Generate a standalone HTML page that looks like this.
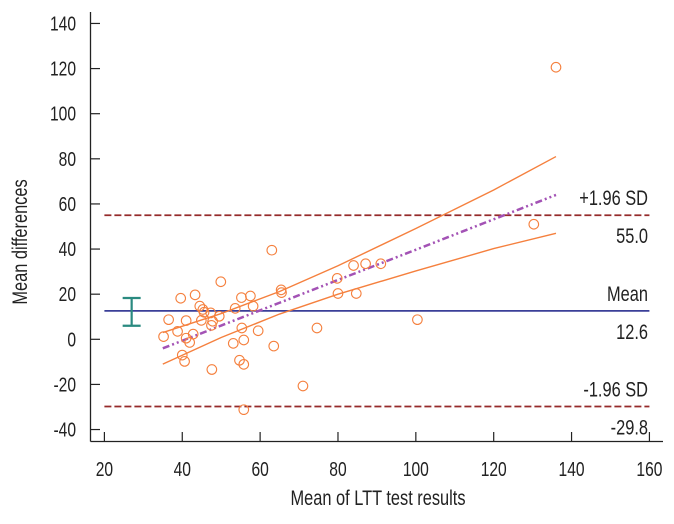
<!DOCTYPE html>
<html><head><meta charset="utf-8"><style>
body{margin:0;background:#fff;}
svg{display:block;font-family:"Liberation Sans",sans-serif;}
</style></head><body>
<svg id="chart" width="674" height="524" viewBox="0 0 674 524" xmlns="http://www.w3.org/2000/svg"></svg>
<script>
const xTicks=[20,40,60,80,100,120,140,160];
const yTicks=[-40,-20,0,20,40,60,80,100,120,140];
const ptsX=[136,130.3,63,49.9,43.3,39.6,55.2,57.5,58.2,53.6,44.5,45.3,45.6,47.3,49.5,36.5,41,44.9,47.8,47.5,38.8,35.2,42.8,41,41.9,40,40.6,47.6,53.1,55.8,55.3,59.5,54.7,55.8,55.8,63.5,65.4,65.5,71,74.6,79.8,80,84,87.1,91,84.7,100.4];
const ptsY=[120.6,51,39.5,25.5,19.7,18.2,18.5,19.2,14.7,13.7,14.7,13.2,12,11.7,10.2,8.7,8.3,8.4,8,6.2,3.5,1.2,2.3,0.5,-1.4,-7,-9.8,-13.4,-1.8,-0.3,5,3.8,-9.3,-11.1,-31.2,-3,21.9,20.7,-20.7,5,27,20.3,32.7,33.5,33.5,20.3,8.7];
const regX=[35,50,65,80,100,120,136];
const regMid=[-4,6.1,16.2,26.3,39.7,53.2,64];
const regUp=[3,11.4,21.2,32.6,49.1,66.2,81];
const regLo=[-11,0.8,11.2,20,30.3,40.2,47];
const meanDiff=12.6, upperLoA=55.0, lowerLoA=-29.8;
const errX=27, errLo=6, errHi=18.3;

const svg=document.getElementById('chart');
const NS='http://www.w3.org/2000/svg';
const X=v=>104.4+(v-20)*3.893;
const Y=v=>339.3-v*2.256;
function mk(tag,attrs,parent){const e=document.createElementNS(NS,tag);for(const k in attrs)e.setAttribute(k,attrs[k]);(parent||svg).appendChild(e);return e;}
function txt(x,y,s,size,anchor,parent,rot){
  const t=mk('text',{x:0,y:0,'text-anchor':anchor,'font-size':size,fill:'#222',transform:'translate('+x+','+y+')'+(rot?' rotate(-90)':'')+' scale(0.78,1)'},parent);
  t.textContent=s;return t;
}

let g=mk('g',{});


mk('line',{x1:90.5,y1:12,x2:90.5,y2:441.5,stroke:'#222','stroke-width':1.3},g);
yTicks.forEach(t=>{
  mk('line',{x1:90.5,y1:Y(t),x2:100,y2:Y(t),stroke:'#222','stroke-width':1.2},g);
  const tx=txt(76,Y(t)+7,String(t),20,'end',g);
  
  
});
let gx=mk('g',{});


mk('line',{x1:90.5,y1:441.5,x2:663,y2:441.5,stroke:'#222','stroke-width':1.3},gx);
xTicks.forEach(t=>{
  mk('line',{x1:X(t),y1:432,x2:X(t),y2:441.5,stroke:'#222','stroke-width':1.2},gx);
  const tx=txt(X(t),476,String(t),20,'middle',gx);
  
  
});
let xt=txt(378,505,'Mean of LTT test results',21,'middle');


let yt=txt(27,242,'Mean differences',21,'middle',null,true);



function hline(v,color,dash,name){
  const l=mk('line',{x1:X(20),y1:Y(v),x2:X(160),y2:Y(v),stroke:color,'stroke-width':1.8});
  if(dash)l.setAttribute('stroke-dasharray',dash);
  
  
}
hline(upperLoA,'#952a2a','7,3','upper-loa-line');
hline(lowerLoA,'#952a2a','7,3','lower-loa-line');
hline(meanDiff,'#3a3f98',null,'mean-line');
function lbl(s,y,name){const t=txt(648,y,s,21,'end');}
lbl('+1.96 SD',Y(upperLoA)-10,'upper-loa-label');
lbl(upperLoA.toFixed(1),Y(upperLoA)+28,'upper-loa-value');
lbl('Mean',Y(meanDiff)-10,'mean-label');
lbl(meanDiff.toFixed(1),Y(meanDiff)+28,'mean-value');
lbl('-1.96 SD',Y(lowerLoA)-10,'lower-loa-label');
lbl(lowerLoA.toFixed(1),Y(lowerLoA)+28,'lower-loa-value');

function poly(ys,color,w,dash,name){
  const p=mk('polyline',{points:regX.map((x,i)=>X(x)+','+Y(ys[i])).join(' '),fill:'none',stroke:color,'stroke-width':w});
  if(dash)p.setAttribute('stroke-dasharray',dash);
  
  
}
poly(regUp,'#f5803e',1.4,null,'regression-upper-ci');
poly(regLo,'#f5803e',1.4,null,'regression-lower-ci');
poly(regMid,'#a352b5',2.5,'7,3,2,3,2,3','regression-line');

let eb=mk('g',{stroke:'#2a8a80','stroke-width':2.2,fill:'none'});


mk('line',{x1:X(errX),y1:Y(errLo),x2:X(errX),y2:Y(errHi)},eb);
mk('line',{x1:X(errX)-9,y1:Y(errLo),x2:X(errX)+9,y2:Y(errLo)},eb);
mk('line',{x1:X(errX)-9,y1:Y(errHi),x2:X(errX)+9,y2:Y(errHi)},eb);

ptsX.forEach((x,i)=>{
  const c=mk('circle',{cx:X(x),cy:Y(ptsY[i]),r:4.8,fill:'none',stroke:'#f5803e','stroke-width':1.1});
  
  
});
</script>
</body></html>
